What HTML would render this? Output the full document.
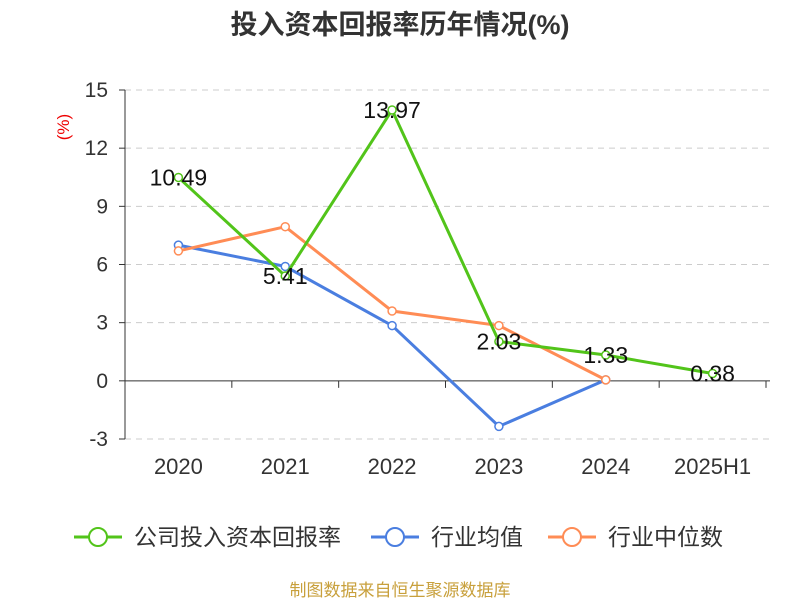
<!DOCTYPE html>
<html><head><meta charset="utf-8"><style>
body{margin:0;background:#fff;font-family:"Liberation Sans","Noto Sans CJK SC",sans-serif;}
</style></head><body>
<svg width="800" height="600" xmlns="http://www.w3.org/2000/svg" font-family="Liberation Sans, Noto Sans CJK SC, sans-serif" id="chart">
<text x="400" y="34" text-anchor="middle" font-size="27" font-weight="bold" fill="#333">投入资本回报率历年情况(%)</text>
<text x="69" y="127" fill="#e00" font-size="17" transform="rotate(-90 69 127)" text-anchor="middle">(%)</text>
<g id="grid"></g><g id="axes"></g><g id="series"></g>
<g font-size="23" fill="#333">
<g><line x1="74" y1="537" x2="122" y2="537" stroke="#52c41a" stroke-width="3"/><circle cx="98" cy="537" r="9" fill="#fff" stroke="#52c41a" stroke-width="2"/><text x="134" y="545">公司投入资本回报率</text></g>
<g><line x1="371" y1="537" x2="419" y2="537" stroke="#4a7ee0" stroke-width="3"/><circle cx="395" cy="537" r="9" fill="#fff" stroke="#4a7ee0" stroke-width="2"/><text x="431" y="545">行业均值</text></g>
<g><line x1="548" y1="537" x2="596" y2="537" stroke="#ff8c55" stroke-width="3"/><circle cx="572" cy="537" r="9" fill="#fff" stroke="#ff8c55" stroke-width="2"/><text x="608" y="545">行业中位数</text></g>
</g>
<text x="400" y="596" text-anchor="middle" font-size="17" fill="#c8a03c">制图数据来自恒生聚源数据库</text>
</svg>
<script>
const categories=["2020","2021","2022","2023","2024","2025H1"];
const companyValues=[10.49,5.41,13.97,2.03,1.33,0.38];
const avgValues=[7.0,5.9,2.85,-2.35,0.05];
const medianValues=[6.7,7.95,3.6,2.85,0.05];
const yTicks=[-3,0,3,6,9,12,15];
const NS="http://www.w3.org/2000/svg";
const L=125,R=766,T=90,B=439,yMin=-3,yMax=15;
const band=(R-L)/categories.length;
const xs=i=>L+band*(i+0.5);
const ys=v=>B-(v-yMin)/(yMax-yMin)*(B-T);
function mk(tag,attrs,parent){const e=document.createElementNS(NS,tag);for(const k in attrs)e.setAttribute(k,attrs[k]);parent.appendChild(e);return e;}
const grid=document.getElementById('grid'),axes=document.getElementById('axes'),ser=document.getElementById('series');
yTicks.forEach(t=>{
  if(t!==0){const g=mk('line',{x1:L,x2:770,y1:ys(t),y2:ys(t),stroke:'#ccc','stroke-dasharray':'6,5'},grid);
  
  }
  const tk=mk('line',{x1:L-6,x2:L,y1:ys(t),y2:ys(t),stroke:'#333'},axes);
  
  
  const lb=mk('text',{x:L-17,y:ys(t)+7,'text-anchor':'end','font-size':21,fill:'#333'},axes);lb.textContent=t;
  
  
});
const ya=mk('line',{x1:L,x2:L,y1:T,y2:B,stroke:'#333'},axes);


const xa=mk('line',{x1:L,x2:770,y1:ys(0),y2:ys(0),stroke:'#333'},axes);


for(let i=0;i<=categories.length;i++){const tk=mk('line',{x1:L+band*i,x2:L+band*i,y1:ys(0),y2:ys(0)+7,stroke:'#333'},axes);

}
categories.forEach((c,i)=>{const t=mk('text',{x:xs(i),y:474,'text-anchor':'middle','font-size':22,fill:'#333'},axes);t.textContent=c;

});
function series(vals,color,name,labels){
  const pts=vals.map((v,i)=>xs(i)+','+ys(v)).join(' ');
  const pl=mk('polyline',{points:pts,fill:'none',stroke:color,'stroke-width':3},ser);
  
  
  vals.forEach((v,i)=>{const c=mk('circle',{cx:xs(i),cy:ys(v),r:4,fill:'#fff',stroke:color,'stroke-width':1.5},ser);
  
  });
  if(labels)vals.forEach((v,i)=>{const t=mk('text',{x:xs(i),y:ys(v)+8,'text-anchor':'middle','font-size':23,fill:'#111'},ser);t.textContent=v.toFixed(2);
  
  });
}
series(avgValues,'#4a7ee0','industry-avg',false);
series(medianValues,'#ff8c55','industry-median',false);
series(companyValues,'#52c41a','company',true);
</script>
</body></html>
